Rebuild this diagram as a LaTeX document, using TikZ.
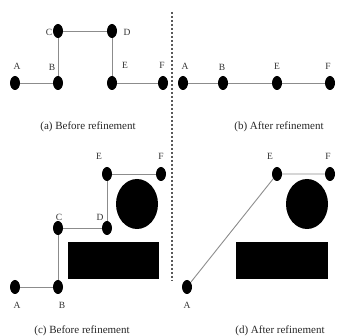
\documentclass[tikz,border=0pt]{standalone}
\usepackage{fontspec}
\setmainfont{Liberation Serif}
\usetikzlibrary{shapes.geometric}
\begin{document}
\begin{tikzpicture}[x=1pt,y=-1pt,
  dotnode/.style={ellipse,fill=black,minimum width=10pt,minimum height=14pt,inner sep=0pt},
  linkline/.style={draw=black!45,line width=0.9pt},
  labtxt/.style={font=\fontsize{9.5}{10}\selectfont,text=black!80,inner sep=0pt},
  captxt/.style={font=\fontsize{11}{12}\selectfont,text=black!85,inner sep=0pt},
  obst/.style={fill=black}]
\useasboundingbox (0,0) rectangle (337,336);
% divider
\coordinate (dt) at (172,12);
\coordinate (db) at (172,281);
\draw[black!65,line width=1.1pt,dash pattern=on 2.5pt off 1.5pt] (dt) -- (db);
% (a)
\node[dotnode] (aA) at (15,83) {};
\node[dotnode] (aB) at (58,83) {};
\node[dotnode] (aC) at (58,31) {};
\node[dotnode] (aD) at (112,31) {};
\node[dotnode] (aE) at (112,83) {};
\node[dotnode] (aF) at (163,83) {};
\draw[linkline] (aA) -- (aB) -- (aC) -- (aD) -- (aE) -- (aF);
\node[labtxt] (laA) at (17,66) {A};
\node[labtxt] (laB) at (52,67) {B};
\node[labtxt] (laC) at (49,32) {C};
\node[labtxt] (laD) at (127,32) {D};
\node[labtxt] (laE) at (125,65) {E};
\node[labtxt] (laF) at (162,65) {F};
\node[captxt] (capa) at (88,127) {(a) Before refinement};
% (b)
\node[dotnode] (bA) at (183,83) {};
\node[dotnode] (bB) at (223,83) {};
\node[dotnode] (bE) at (277,83) {};
\node[dotnode] (bF) at (330,83) {};
\draw[linkline] (bA) -- (bB) -- (bE) -- (bF);
\node[labtxt] (lbA) at (185,66) {A};
\node[labtxt] (lbB) at (222,67) {B};
\node[labtxt] (lbE) at (277,66) {E};
\node[labtxt] (lbF) at (328,66) {F};
\node[captxt] (capb) at (279,127) {(b) After refinement};
% (c)
\fill[obst] (137,204) ellipse[x radius=21, y radius=25];
\fill[obst] (68,242) rectangle (159,279);
\node[dotnode] (cA) at (15,287) {};
\node[dotnode] (cB) at (58,287) {};
\node[dotnode] (cC) at (58,228) {};
\node[dotnode] (cD) at (107,228) {};
\node[dotnode] (cE) at (107,174) {};
\node[dotnode] (cF) at (161,174) {};
\draw[linkline] (cA) -- (cB) -- (cC) -- (cD) -- (cE) -- (cF);
\node[labtxt] (lcA) at (17,305) {A};
\node[labtxt] (lcB) at (62,305) {B};
\node[labtxt] (lcC) at (59,217) {C};
\node[labtxt] (lcD) at (100,217) {D};
\node[labtxt] (lcE) at (99,156) {E};
\node[labtxt] (lcF) at (161,156) {F};
\node[captxt] (capc) at (82,331) {(c) Before refinement};
% (d)
\fill[obst] (307,204) ellipse[x radius=21, y radius=25];
\fill[obst] (236,242) rectangle (328,279);
\node[dotnode] (dA) at (187,287) {};
\node[dotnode] (dE) at (277,174) {};
\node[dotnode] (dF) at (330,174) {};
\draw[linkline] (dA) -- (dE) -- (dF);
\node[labtxt] (ldA) at (187,305) {A};
\node[labtxt] (ldE) at (270,156) {E};
\node[labtxt] (ldF) at (328,156) {F};
\node[captxt] (capd) at (280,331) {(d) After refinement};
\end{tikzpicture}
\end{document}
